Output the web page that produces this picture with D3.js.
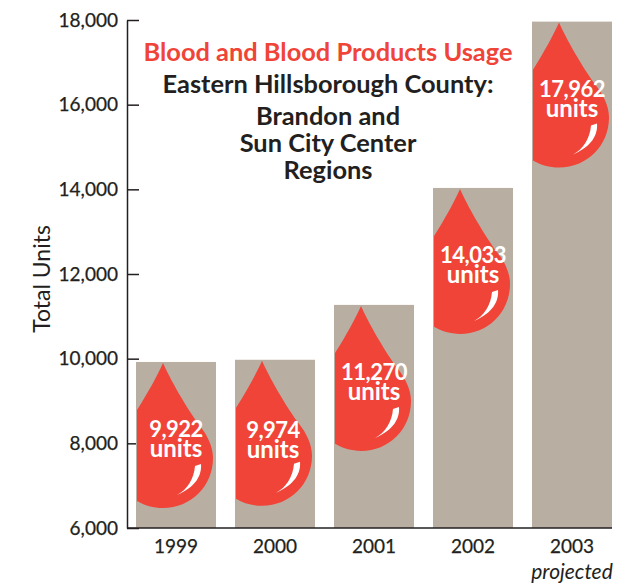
<!DOCTYPE html>
<html>
<head>
<meta charset="utf-8">
<script src="https://cdn.jsdelivr.net/npm/d3@7"></script>
<style>
    html, body { margin: 0; padding: 0; background: #fff; }
    svg { display: block; }
    text { font-family: Lato, "Open Sans", sans-serif; }
</style>
</head>
<body>
<div id="chart"></div>
<script>
const years = ["1999", "2000", "2001", "2002", "2003"];
const units = [9922, 9974, 11270, 14033, 17962];
const unitLabels = ["9,922", "9,974", "11,270", "14,033", "17,962"];
const yTicks = [6000, 8000, 10000, 12000, 14000, 16000, 18000];
const titleLines = ["Blood and Blood Products Usage", "Eastern Hillsborough County:", "Brandon and", "Sun City Center", "Regions"];

const svg = d3.select("#chart").append("svg")
    .attr("width", 631)
    .attr("height", 585);

const x = d3.scaleBand().domain(years).range([136, 612]).paddingInner(0.192).paddingOuter(0);
const y = d3.scaleLinear().domain([6000, 18000]).range([528, 20]);

const ink = "#231f20";
const red = "#f04438";

// Axis first, bars sit on top of the ticks
const yAxis = d3.axisLeft(y)
    .tickValues(yTicks)
    .tickFormat(d3.format(","))
    .tickSizeInner(-12)
    .tickSizeOuter(0)
    .tickPadding(9);

const axisG = svg.append("g")
    .attr("transform", "translate(127,0)")
    .call(yAxis);
axisG.selectAll("path, line").attr("stroke", ink).attr("stroke-width", 1.5);
axisG.selectAll("text")
    .attr("fill", ink)
    .attr("stroke", ink)
    .attr("stroke-width", 0.25)
    .style("font-size", "19px")
    .style("font-family", "Lato, sans-serif");

// Bars
const rows = years.map((d, i) => ({year: d, value: units[i], label: unitLabels[i]}));

svg.append("defs").selectAll("clipPath")
    .data(rows)
    .enter().append("clipPath")
    .attr("id", d => "bar-" + d.year)
    .append("rect")
    .attr("x", d => x(d.year) + 1)
    .attr("y", d => y(d.value))
    .attr("width", x.bandwidth() - 1)
    .attr("height", d => y(6000) - y(d.value));

svg.selectAll(".bar")
    .data(rows)
    .enter().append("rect")
    .attr("class", "bar")
    .attr("x", d => x(d.year))
    .attr("y", d => y(d.value))
    .attr("width", x.bandwidth())
    .attr("height", d => y(6000) - y(d.value))
    .attr("fill", "#b9aea2");

// baseline over the bars
svg.append("line")
    .attr("x1", 127).attr("x2", 612)
    .attr("y1", y(6000)).attr("y2", y(6000))
    .attr("stroke", ink).attr("stroke-width", 1.5);

// Drop shape, tip at 0,0
const dropPath = "M0,0 C6,14 24,46 37,63 C44,72 50,83 50,95 C50,123 28,145 0,145 C-28,145 -50,123 -50,95 C-50,83 -44,72 -37,63 C-24,46 -6,14 0,0 Z";
const shinePath = "M38,101 C39,112 33,124 14,132 C24,127 31,116 32,103 Z";

const drops = svg.selectAll(".drop")
    .data(rows)
    .enter().append("g")
    .attr("class", "drop")
    .attr("clip-path", d => `url(#bar-${d.year})`);

const dropInner = drops.append("g")
    .attr("transform", d => `translate(${x(d.year) + 27},${y(d.value) + 1})`);

dropInner.append("path").attr("d", dropPath).attr("fill", red);
dropInner.append("path").attr("d", shinePath).attr("fill", "#fff");

// the 2000 label sits a little off the pattern of the others
const labelX = d => x(d.year) + x.bandwidth() / 2 + (d.year === "2000" ? -2 : 0);
const labelY = d => y(d.value) + (d.year === "2000" ? 78 : 75);

// Value labels inside the drops
svg.selectAll(".val")
    .data(rows)
    .enter().append("text")
    .attr("class", "val")
    .attr("x", labelX)
    .attr("y", labelY)
    .attr("text-anchor", "middle")
    .attr("fill", "#fff")
    .style("font-size", "22px")
    .style("letter-spacing", "-0.5px")
    .style("font-weight", 700)
    .text(d => d.label);

svg.selectAll(".unit")
    .data(rows)
    .enter().append("text")
    .attr("class", "unit")
    .attr("x", labelX)
    .attr("y", d => labelY(d) + 20)
    .attr("text-anchor", "middle")
    .attr("fill", "#fff")
    .style("font-size", "24px")
    .style("font-weight", 700)
    .text("units");

// Year labels
svg.selectAll(".year")
    .data(rows)
    .enter().append("text")
    .attr("class", "year")
    .attr("x", d => x(d.year) + x.bandwidth() / 2)
    .attr("y", 553)
    .attr("text-anchor", "middle")
    .attr("fill", ink)
    .attr("stroke", ink)
    .attr("stroke-width", 0.25)
    .style("font-size", "19px")
    .text(d => d.year);

svg.append("text")
    .attr("x", x("2003") + x.bandwidth() / 2)
    .attr("y", 579)
    .attr("text-anchor", "middle")
    .attr("fill", ink)
    .style("font-size", "21px")
    .style("font-style", "italic")
    .text("projected");

// Axis title
svg.append("text")
    .attr("transform", "translate(50,279) rotate(-90)")
    .attr("text-anchor", "middle")
    .attr("fill", ink)
    .style("font-size", "23px")
    .text("Total Units");

// Title block
const titleScale = d3.scalePoint().domain([2, 3, 4]).range([125, 179]);
svg.selectAll(".title")
    .data(titleLines)
    .enter().append("text")
    .attr("class", "title")
    .attr("x", 328)
    .attr("y", (d, i) => i === 0 ? 61 : (i === 1 ? 93 : titleScale(i)))
    .attr("text-anchor", "middle")
    .attr("fill", (d, i) => i === 0 ? red : ink)
    .style("font-size", "25.4px")
    .style("font-weight", 700)
    .text(d => d);
</script>
</body>
</html>
